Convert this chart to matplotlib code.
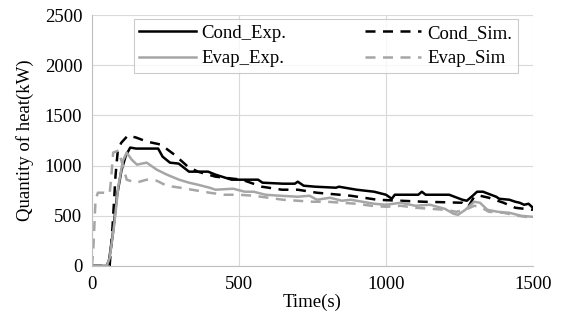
import numpy as np
import matplotlib.pyplot as plt

plt.rcParams['font.family'] = ['Liberation Serif', 'DejaVu Serif']

# Cond_Exp.
t_cond_exp = [0, 50, 58, 70, 85, 100, 115, 130, 150, 225, 240, 265, 295, 330, 395, 420, 475, 565,
              580, 650, 690, 700, 720, 760, 830, 840, 900, 960, 1000, 1020, 1030, 1110, 1122, 1135,
              1215, 1260, 1275, 1295, 1310, 1330, 1375, 1385, 1420, 1440, 1455, 1470, 1485, 1500]
cond_exp = [0, 0, 60, 300, 700, 950, 1100, 1180, 1170, 1170, 1090, 1030, 1020, 940, 940, 910, 860, 860,
            830, 820, 820, 840, 800, 790, 780, 790, 760, 740, 710, 670, 710, 710, 740, 710,
            710, 660, 650, 700, 740, 740, 690, 670, 660, 640, 630, 610, 620, 580]

# Cond_Sim.
t_cond_sim = [0, 60, 70, 80, 88, 100, 122, 150, 186, 234, 280, 326, 360, 420, 510, 578, 646, 700,
              765, 880, 970, 1050, 1130, 1200, 1260, 1280, 1300, 1320, 1350, 1400, 1440, 1470, 1500]
cond_sim = [0, 0, 400, 900, 1160, 1230, 1300, 1280, 1240, 1210, 1110, 990, 940, 890, 860, 790, 760, 760,
            730, 700, 660, 650, 640, 635, 630, 590, 690, 700, 680, 630, 580, 570, 560]

# Evap_Exp.
t_evap_exp = [0, 50, 60, 75, 90, 105, 118, 135, 153, 186, 220, 255, 296, 330, 360, 400, 420, 480, 520,
              550, 590, 640, 700, 740, 765, 810, 850, 880, 920, 960, 1000, 1050, 1100, 1150, 1200,
              1230, 1245, 1270, 1300, 1320, 1345, 1380, 1420, 1460, 1500]
evap_exp = [0, 0, 80, 400, 800, 1050, 1130, 1060, 1010, 1030, 960, 910, 860, 830, 810, 780, 760, 770, 740,
            740, 710, 700, 690, 700, 660, 680, 650, 660, 640, 620, 610, 630, 600, 610, 570,
            520, 510, 560, 640, 630, 560, 540, 530, 500, 490]

# Evap_Sim
t_evap_sim = [0, 5, 12, 20, 40, 60, 66, 72, 90, 105, 118, 150, 186, 220, 254, 300, 360, 400, 450, 500,
              550, 600, 650, 700, 750, 800, 850, 900, 950, 1000, 1050, 1100, 1150, 1200, 1240, 1270,
              1300, 1320, 1350, 1400, 1450, 1500]
evap_sim = [0, 200, 660, 730, 730, 720, 900, 1130, 1150, 1000, 860, 830, 860, 850, 800, 780, 750, 730, 710, 710,
            700, 680, 660, 650, 640, 640, 630, 620, 600, 590, 600, 580, 570, 560, 540, 560,
            600, 590, 540, 530, 500, 480]

fig, ax = plt.subplots(figsize=(5.61, 3.22), dpi=100)
fig.subplots_adjust(left=0.164, right=0.950, bottom=0.174, top=0.953)

l1, = ax.plot(t_cond_exp, cond_exp, color='black', lw=1.8, label='Cond_Exp.')
l2, = ax.plot(t_cond_sim, cond_sim, color='black', lw=1.8, ls=(0, (4, 3)), label='Cond_Sim.')
l3, = ax.plot(t_evap_exp, evap_exp, color='#a6a6a6', lw=1.8, label='Evap_Exp.')
l4, = ax.plot(t_evap_sim, evap_sim, color='#a6a6a6', lw=1.8, ls=(0, (4, 3)), label='Evap_Sim')

ax.set_xlim(0, 1500)
ax.set_ylim(0, 2500)
ax.set_xticks([0, 500, 1000, 1500])
ax.set_yticks(np.arange(0, 2501, 500))
ax.grid(True, color='#d9d9d9', lw=0.8)
ax.set_axisbelow(True)
for s in ['top', 'right']:
    ax.spines[s].set_visible(False)
ax.spines['left'].set_color('#bfbfbf')
ax.spines['bottom'].set_color('#bfbfbf')
ax.tick_params(length=0, labelsize=13.5, pad=7)
ax.set_xlabel('Time(s)', fontsize=13.5, labelpad=1)
ax.set_ylabel('Quantity of heat(kW)', fontsize=13.5, labelpad=8)

# matplotlib fills legend columns first, so reorder to get Cond on the first row
leg = ax.legend([l1, l3, l2, l4], ['Cond_Exp.', 'Evap_Exp.', 'Cond_Sim.', 'Evap_Sim'],
                ncol=2, loc='upper center', bbox_to_anchor=(0.53, 0.985), fontsize=13.5,
                frameon=True, fancybox=False, edgecolor='#bfbfbf', handlelength=3.0,
                handletextpad=0.3, columnspacing=4.2, borderpad=0.3, labelspacing=0.45,
                borderaxespad=0)
leg.get_frame().set_linewidth(0.8)

plt.savefig('out.png')
